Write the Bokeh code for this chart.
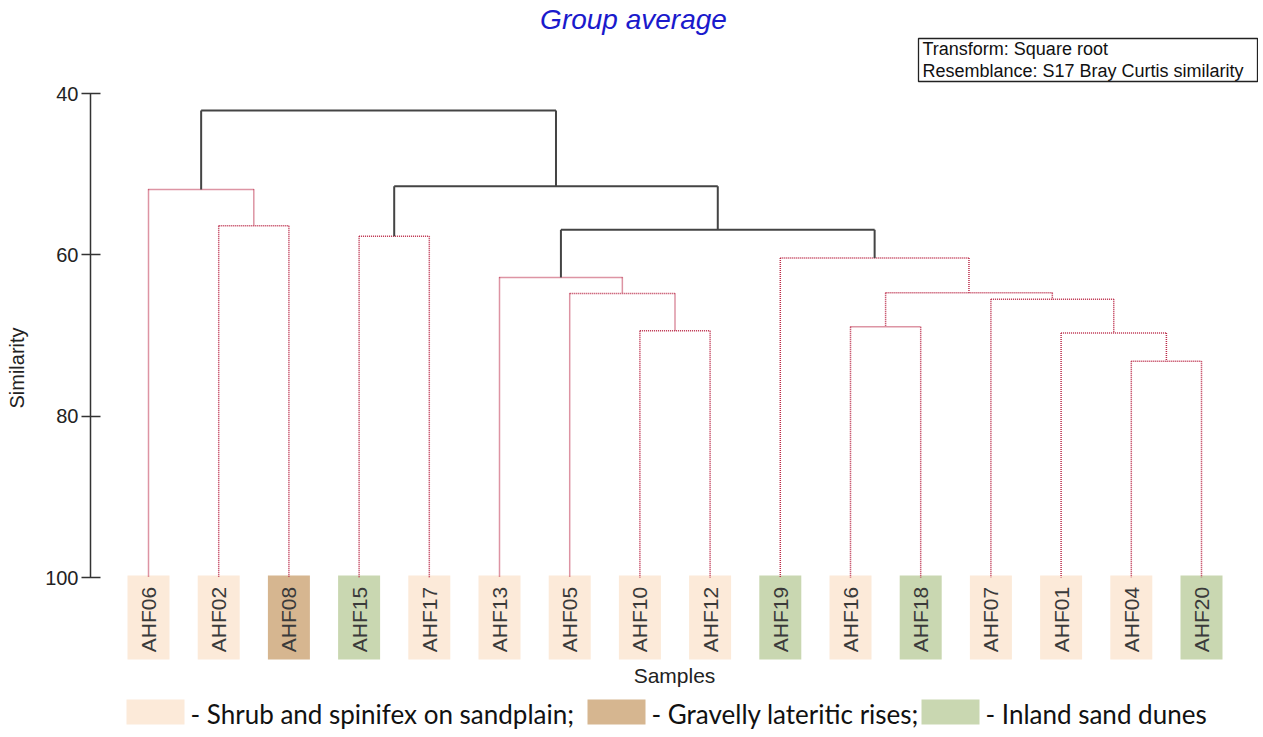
import math
from bokeh.plotting import figure
from bokeh.models import Range1d, LinearAxis, FixedTicker, ColumnDataSource, Label
from bokeh.core.properties import value
from bokeh.embed import file_html
from bokeh.resources import INLINE

# ---------------- data ----------------
leaves = ["AHF06", "AHF02", "AHF08", "AHF15", "AHF17", "AHF13", "AHF05", "AHF10",
          "AHF12", "AHF19", "AHF16", "AHF18", "AHF07", "AHF01", "AHF04", "AHF20"]
habitat = ["Shrub", "Shrub", "Gravel", "Inland", "Shrub", "Shrub", "Shrub", "Shrub",
           "Shrub", "Inland", "Shrub", "Inland", "Shrub", "Shrub", "Shrub", "Inland"]

habitat_keys = ["Shrub", "Gravel", "Inland"]
habitat_names = ["- Shrub and spinifex on sandplain;", "- Gravelly lateritic rises;", "- Inland sand dunes"]
habitat_colors = ["#fcead9", "#d6b690", "#c9d7b1"]

# merges: child ids (leaves 0..15, merged nodes 16..), similarity, SIMPROF-significant (black)
merge_left = [1, 0, 3, 7, 6, 5, 10, 14, 13, 12, 22, 9, 21, 18, 17]
merge_right = [2, 16, 4, 8, 19, 20, 11, 15, 23, 24, 25, 26, 27, 28, 29]
merge_sim = [56.4, 51.9, 57.7, 69.4, 64.8, 62.8, 68.9, 73.2, 69.7, 65.5, 64.7, 60.4, 56.9, 51.5, 42.1]
merge_sig = [False] * 12 + [True] * 3

y_ticks = [40, 60, 80, 100]

# ---------------- layout helpers (screen px -> data) ----------------
LEAF0, STEP = 148.0, 70.2          # screen x of first leaf, leaf spacing
Y40, PPU = 93.0, 8.067             # screen y of similarity 40, px per unit
FRAME_L = 90                       # screen x of the y axis


def X(px):
    return (px - LEAF0) / STEP


def Y(py):
    return 40 + (py - Y40) / PPU


W, H = 1258, 735
p = figure(width=W, height=H, output_backend="svg", toolbar_location=None,
           x_axis_type=None, y_axis_type=None,
           x_range=Range1d(X(FRAME_L), X(W)),
           y_range=Range1d(Y(H), Y(0)),
           min_border_left=FRAME_L, min_border_right=0, min_border_top=0, min_border_bottom=0)
p.outline_line_color = None
p.background_fill_color = "white"
p.border_fill_color = "white"

yaxis = LinearAxis(ticker=FixedTicker(ticks=y_ticks), bounds=(40, 100))
yaxis.axis_line_color = "#333333"
yaxis.axis_line_width = 1.5
yaxis.major_tick_line_color = "#333333"
yaxis.major_tick_line_width = 1.5
yaxis.major_tick_in = 10
yaxis.major_tick_out = 9
yaxis.minor_tick_line_color = None
yaxis.major_label_standoff = 3
yaxis.major_label_text_font = "Liberation Sans"
yaxis.major_label_text_font_size = "20px"
yaxis.major_label_text_color = "#222222"
yaxis.axis_label = "Similarity"
yaxis.axis_label_standoff = 14
yaxis.axis_label_text_font = "Liberation Sans"
yaxis.axis_label_text_font_size = "20px"
yaxis.axis_label_text_font_style = "normal"
yaxis.axis_label_text_color = "#222222"
p.add_layout(yaxis, "left")

# ---------------- dendrogram ----------------
pos = [float(i) for i in range(len(leaves))]
hgt = [100.0] * len(leaves)
seg = {True: dict(x0=[], y0=[], x1=[], y1=[]), False: dict(x0=[], y0=[], x1=[], y1=[])}
for a, b, s, sig in zip(merge_left, merge_right, merge_sim, merge_sig):
    d = seg[sig]
    for (xa, ya, xb, yb) in [(pos[a], s, pos[b], s), (pos[a], s, pos[a], hgt[a]), (pos[b], s, pos[b], hgt[b])]:
        d["x0"].append(xa); d["y0"].append(ya); d["x1"].append(xb); d["y1"].append(yb)
    pos.append((pos[a] + pos[b]) / 2)
    hgt.append(s)

# label boxes
leaf_colors = [habitat_colors[habitat_keys.index(h)] for h in habitat]
p.rect(x=list(range(len(leaves))), y=Y(617), width=42 / STEP, height=84 / PPU,
       fill_color=leaf_colors, line_color=None)

p.segment(x0="x0", y0="y0", x1="x1", y1="y1", source=ColumnDataSource(seg[False]),
          line_color="#bb2a48", line_width=1.5, line_dash="1 1")
p.segment(x0="x0", y0="y0", x1="x1", y1="y1", source=ColumnDataSource(seg[True]),
          line_color="#444444", line_width=2)

p.text(x=list(range(len(leaves))), y=Y(619), text=leaves, angle=math.pi / 2,
       text_align="center", text_baseline="middle", text_font=value("Liberation Sans"),
       text_font_size="21px", text_color="#3a3a3a")

# ---------------- texts ----------------
p.add_layout(Label(x=X(633), y=Y(19), text="Group average", text_align="center",
                   text_baseline="middle", text_font="Liberation Sans", text_font_style="italic",
                   text_font_size="28px", text_color="#1a1acc"))
p.add_layout(Label(x=X(674), y=Y(675), text="Samples", text_align="center",
                   text_baseline="middle", text_font="Liberation Sans",
                   text_font_size="21px", text_color="#222222"))

# info box
p.quad(left=X(918), right=X(1257), top=Y(38), bottom=Y(81),
       fill_color="white", line_color="#222222", line_width=1.3)
for txt, yy in [("Transform: Square root", 48), ("Resemblance: S17 Bray Curtis similarity", 70)]:
    p.add_layout(Label(x=X(922), y=Y(yy), text=txt, text_align="left", text_baseline="middle",
                       text_font="Liberation Sans", text_font_size="18px", text_color="#111111"))

# legend
sw_left = [126, 587, 921]
for key, name, col, sx in zip(habitat_keys, habitat_names, habitat_colors, sw_left):
    p.quad(left=X(sx), right=X(sx + 58), top=Y(699), bottom=Y(724), fill_color=col, line_color=None)
    p.add_layout(Label(x=X(sx + 64), y=Y(713), text=name, text_align="left", text_baseline="middle",
                       text_font="Lato", text_font_size="26px", text_color="#111111"))

open("out.html", "w").write(file_html(p, INLINE))
